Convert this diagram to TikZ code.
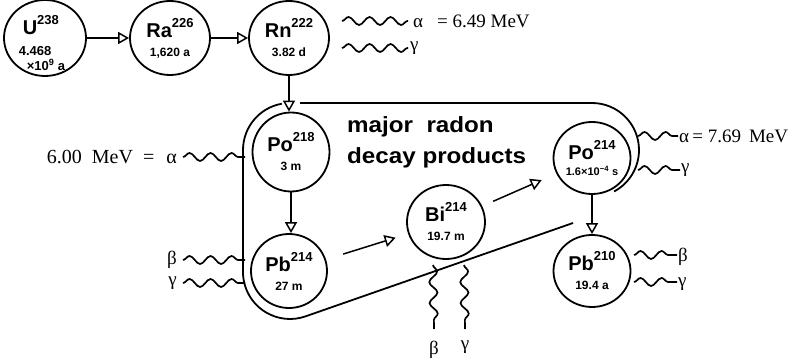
\documentclass[tikz,border=0pt]{standalone}
\usepackage{fontspec}
\setmainfont{Liberation Serif}
\newfontfamily\sansf{Liberation Sans}
\usetikzlibrary{arrows.meta,decorations.pathmorphing,shapes.geometric}
\newcommand\nucl[3]{\fontsize{20}{20}\selectfont #1\raisebox{10pt}{\fontsize{13}{13}\selectfont #2}\\[7pt]\fontsize{12}{12}\selectfont #3}
\begin{document}
\begin{tikzpicture}[x=1pt,y=1pt,
  nuc/.style={ellipse, draw, line width=1.8pt, minimum width=80pt, minimum height=74pt, inner sep=0pt, align=center, font=\sansf\bfseries},
  arr/.style={-{Triangle[open,length=11pt,width=12pt]}, line width=1.5pt},
  wave/.style={decorate, decoration={snake, segment length=21pt, amplitude=4pt}, line width=1.7pt},
  loopline/.style={line width=1.8pt},
  lab/.style={font=\fontsize{19}{19}\selectfont, inner sep=0pt}]
\useasboundingbox (0,0) rectangle (801,-363);

% nuclides
\node[nuc, minimum height=76pt, minimum width=82pt] (U) at (45,-38) {\raisebox{-9pt}[0pt][0pt]{\begin{tabular}{@{}l@{}}\fontsize{20}{20}\selectfont\hspace{4pt}U\raisebox{10pt}{\fontsize{13}{13}\selectfont 238}\\[9pt]
  \fontsize{13}{13}\selectfont 4.468\\
  \fontsize{13}{13}\selectfont\hspace{8pt}×10\textsuperscript{9} a\end{tabular}}\hspace{6pt}};
\node[nuc] (Ra) at (170,-38) {\nucl{Ra}{226}{1,620 a}};
\node[nuc] (Rn) at (289,-38) {\nucl{Rn}{222}{3.82 d}};
\node[nuc, minimum height=79pt, minimum width=77pt] (Po218) at (291,-152) {\nucl{Po}{218}{3 m}};
\node[nuc, minimum width=76pt] (Pb214) at (289,-271) {\nucl{Pb}{214}{27 m}};
\node[nuc, minimum width=78pt] (Bi) at (446,-222) {\nucl{Bi}{214}{19.7 m}};
\node[nuc, minimum width=77pt, minimum height=72pt] (Po214) at (592,-158) {\fontsize{20}{20}\selectfont Po\raisebox{10pt}{\fontsize{13}{13}\selectfont 214}\\[4pt]\fontsize{11}{11}\selectfont 1.6×10\textsuperscript{−4} s};
\node[nuc, minimum width=77pt, minimum height=72pt] (Pb210) at (592,-271) {\nucl{Pb}{210}{19.4 a}};

% decay arrows
\draw[arr] (U) -- (Ra);
\draw[arr] (Ra) -- (Rn);
\draw[arr] (Rn.south) -- (Rn.south |- Po218.north);
\draw[arr] (Po218.south) -- (Po218.south |- Pb214.north);
\draw[arr, shorten <=18pt, shorten >=13pt] (Pb214) -- (Bi);
\draw[arr, shorten <=12pt, shorten >=16pt] (Bi) -- (Po214);
\draw[arr] (Po214) -- (Pb210);

% enclosing loop
\draw[loopline] (281.84,-103.71) arc[start angle=100, end angle=180, radius=47] -- (243,-272)
  arc[start angle=180, end angle=289, radius=47] -- (573,-223);
\draw[loopline] (300,-103) -- (592,-103) arc[start angle=90, end angle=-62, radius=47];

% caption
\node[anchor=west, align=left, inner sep=0pt, font=\sansf\bfseries\fontsize{22}{31}\selectfont] (txt) at (347,-142)
  {\scalebox{1.1}[1]{major\ \ radon}\\\scalebox{1.1}[1]{decay products}};

% Rn emissions
\coordinate (rnA) at (342,-21);
\node[lab, anchor=west] (rnAl) at (413,-21) {α\hspace{14pt}= 6.49 MeV};
\draw[wave] (rnA) -- ([xshift=-5pt]rnAl.west);
\coordinate (rnG) at (342,-48);
\node[lab, anchor=west] (rnGl) at (410,-48) {γ};
\draw[wave] (rnG) -- ([xshift=-2pt]rnGl.west);

% Po218 emission
\node[lab, anchor=east, font=\fontsize{20}{20}\selectfont] (poA) at (177,-157) {6.00\hspace{10pt}MeV\hspace{10pt}=\hspace{12pt}α};
\coordinate (poAe) at (245,-157);
\draw[wave] ([xshift=6pt]poA.east) -- (poAe);

% Pb214 emissions
\node[lab, anchor=east] (pbB) at (177,-260) {β};
\coordinate (pbBe) at (245,-260);
\draw[wave] ([xshift=6pt]pbB.east) -- (pbBe);
\node[lab, anchor=east] (pbG) at (177,-283) {γ};
\coordinate (pbGe) at (245,-283);
\draw[wave] ([xshift=6pt]pbG.east) -- (pbGe);

% Bi emissions
\coordinate (biB) at (433,-265);
\node[lab, anchor=north] (biBl) at (434,-341) {β};
\draw[wave] (biB) -- ([yshift=12pt]biBl.north);
\coordinate (biG) at (464,-265);
\node[lab, anchor=north] (biGl) at (465,-341) {γ};
\draw[wave] (biG) -- ([yshift=12pt]biGl.north);

% Po214 emissions
\coordinate (p4A) at (638,-136);
\node[lab, anchor=west] (p4Al) at (679,-136) {α\,= 7.69\hspace{8pt}MeV};
\draw[wave] (p4A) -- ([xshift=-1pt]p4Al.west);
\coordinate (p4G) at (638,-170);
\node[lab, anchor=west] (p4Gl) at (681,-170) {γ};
\draw[wave] (p4G) -- ([xshift=-1pt]p4Gl.west);

% Pb210 emissions
\coordinate (p0B) at (634,-255);
\node[lab, anchor=west] (p0Bl) at (678,-257) {β};
\draw[wave] (p0B) -- ([xshift=-1pt]p0Bl.west |- p0B);
\coordinate (p0G) at (634,-282);
\node[lab, anchor=west] (p0Gl) at (678,-284) {γ};
\draw[wave] (p0G) -- ([xshift=-1pt]p0Gl.west |- p0G);
\end{tikzpicture}
\end{document}
